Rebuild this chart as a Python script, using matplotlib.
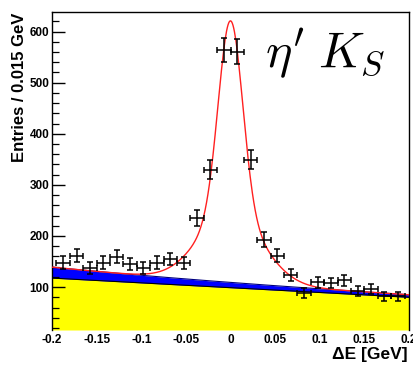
import matplotlib
matplotlib.use("Agg")
import matplotlib.pyplot as plt
import numpy as np

plt.rcParams["font.family"] = ["Liberation Sans", "DejaVu Sans"]
plt.rcParams["font.weight"] = "bold"
plt.rcParams["mathtext.fontset"] = "cm"
plt.rcParams["axes.unicode_minus"] = False

# Binned data (bin width 0.015 GeV)
de_centers = [-0.1875, -0.1725, -0.1575, -0.1425, -0.1275, -0.1125, -0.0975,
              -0.0825, -0.0675, -0.0525, -0.0375, -0.0225, -0.0075, 0.0075,
              0.0225, 0.0375, 0.0525, 0.0675, 0.0825, 0.0975, 0.1125, 0.1275,
              0.1425, 0.1575, 0.1725, 0.1875]
counts = [148, 161, 138, 148, 159, 145, 137, 148, 155, 147, 235, 330, 564,
          561, 349, 193, 161, 124, 88, 109, 108, 113, 93, 96, 82, 82]
half_bin = 0.0075

# Fit components
cont_left, cont_right = 117.6, 80.0          # yellow: linear continuum
blue_amp, blue_decay = 21.4, 3.63            # blue: decaying extra background
sig_mean = 0.0
core_amp, core_sigma = 377.0, 0.0135
tail_amp, tail_sigma = 135.0, 0.035

xticks = [-0.2, -0.15, -0.1, -0.05, 0, 0.05, 0.1, 0.15, 0.2]
xtick_labels = ["-0.2", "-0.15", "-0.1", "-0.05", "0", "0.05", "0.1", "0.15", "0.2"]
yticks = [100, 200, 300, 400, 500, 600]

x = np.linspace(-0.2, 0.2, 500)
cont = cont_left + (cont_right - cont_left) * (x + 0.2) / 0.4
blue = cont + blue_amp * np.exp(-blue_decay * (x + 0.2))
signal = (core_amp * np.exp(-0.5 * ((x - sig_mean) / core_sigma) ** 2)
          + tail_amp * np.exp(-0.5 * ((x - sig_mean) / tail_sigma) ** 2))
total = blue + signal

fig = plt.figure(figsize=(4.13, 3.66), dpi=100)
ax = fig.add_axes([52 / 413, 1 - 330 / 366, 357 / 413, 318.3 / 366])
ymin, ymax = 16, 639

ax.fill_between(x, ymin, cont, color="#ffff00", lw=0, zorder=1)
ax.fill_between(x, cont, blue, color="#0000ff", lw=0, zorder=1)
ax.plot(x, cont, color="black", lw=0.8, zorder=2)
ax.plot(x, blue, color="#000080", lw=0.8, zorder=2)
ax.plot(x, total, color="#ff2020", lw=1.0, zorder=3)

ax.errorbar(de_centers, counts, xerr=half_bin, yerr=np.sqrt(counts),
            fmt="none", ecolor="black", elinewidth=1.1, capsize=2.2,
            capthick=1.1, zorder=4)

ax.set_xlim(-0.2, 0.2)
ax.set_ylim(ymin, ymax)
ax.set_xticks(xticks)
ax.set_xticklabels(xtick_labels)
ax.set_yticks(yticks)
ax.tick_params(axis="y", which="major", direction="in", length=9, width=1.0,
               labelsize=8.5, pad=2)
ax.tick_params(axis="y", which="minor", direction="in", length=5, width=0.9)
ax.tick_params(axis="x", which="both", length=0, labelsize=8.5, pad=3)
ax.set_yticks(np.arange(20, 640, 20), minor=True)
for side in ["left", "right", "top"]:
    ax.spines[side].set_linewidth(1.0)
ax.spines["bottom"].set_visible(False)

ax.text(0.597, 0.823, r"$\eta^{\prime}\;K_{S}$", transform=ax.transAxes,
        fontsize=36, ha="left", va="baseline")

fig.text(20 / 413, 1 - 13 / 366, "Entries / 0.015 GeV", rotation=90,
         ha="center", va="top", fontsize=12, fontweight="bold")
fig.text(408 / 413, 1 - 355 / 366, "ΔE [GeV]", ha="right", va="center",
         fontsize=12.5, fontweight="bold")

fig.savefig("out.png", dpi=100)
